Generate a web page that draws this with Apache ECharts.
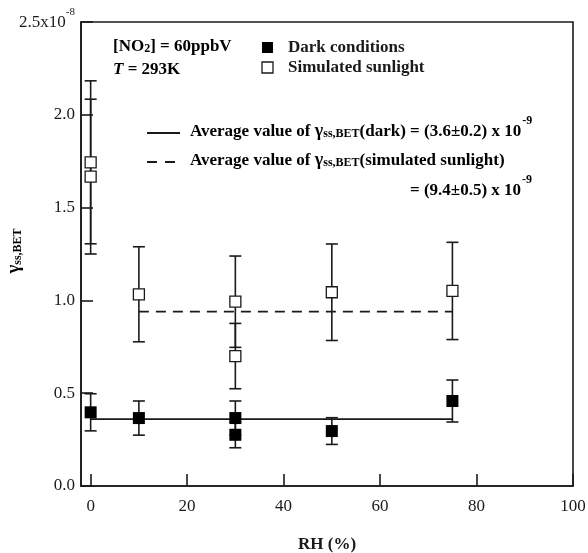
<!DOCTYPE html>
<html>
<head>
<meta charset="utf-8">
<script src="https://cdn.jsdelivr.net/npm/echarts@6/dist/echarts.min.js"></script>
<style>html,body{margin:0;padding:0;background:#fff;}#c{width:588px;height:553px;}</style>
</head>
<body>
<div id="c"></div>
<script>
// values in units of 1e-8
var rhDark = [0, 10, 30, 30, 50, 75];
var gammaDark = [0.397, 0.366, 0.366, 0.276, 0.296, 0.458];
var errDark = [0.100, 0.092, 0.092, 0.070, 0.072, 0.113];

var rhSun = [0, 0, 10, 30, 30, 50, 75];
var gammaSun = [1.744, 1.667, 1.033, 0.993, 0.700, 1.044, 1.051];
var errSun = [0.439, 0.417, 0.256, 0.246, 0.176, 0.260, 0.262];

var darkAvgValue = 0.36, darkAvgRange = [0, 75];
var sunAvgValue = 0.94, sunAvgRange = [10, 75];

var xTicks = [0, 20, 40, 60, 80, 100];
var yTicks = [0, 0.5, 1.0, 1.5, 2.0, 2.5];

var SERIF = "'Liberation Serif','Times New Roman',serif";
var INK = '#1a1a1a';

function pts(xs, ys, es) {
  return xs.map(function (x, i) { return es ? [x, ys[i], es[i]] : [x, ys[i]]; });
}

function errRender(params, api) {
  var x = api.value(0), y = api.value(1), e = api.value(2);
  var top = api.coord([x, y + e]);
  var bot = api.coord([x, y - e]);
  var hw = 6;
  var st = { stroke: INK, lineWidth: 1.6 };
  return {
    type: 'group',
    children: [
      { type: 'line', shape: { x1: top[0], y1: top[1], x2: bot[0], y2: bot[1] }, style: st },
      { type: 'line', shape: { x1: top[0] - hw, y1: top[1], x2: top[0] + hw, y2: top[1] }, style: st },
      { type: 'line', shape: { x1: bot[0] - hw, y1: bot[1], x2: bot[0] + hw, y2: bot[1] }, style: st }
    ]
  };
}

var bold = { fontFamily: SERIF, fontWeight: 'bold', fontSize: 17, color: INK, lineHeight: 20, verticalAlign: 'bottom', padding: [0, 0, 3, 0] };
var subS = { fontFamily: SERIF, fontWeight: 'bold', fontSize: 12, color: INK, lineHeight: 12, verticalAlign: 'bottom', padding: [0, 0, 3, 0] };
var supS = { fontFamily: SERIF, fontWeight: 'bold', fontSize: 12, color: INK, lineHeight: 12, verticalAlign: 'bottom', padding: [0, 0, 16, 1] };
var richAvg = {
  b: bold,
  g: Object.assign({}, bold, { fontSize: 18 }),
  s: subS,
  e: supS
};

var chart = echarts.init(document.getElementById('c'), null, { renderer: 'canvas' });
chart.setOption({
  animation: false,
  backgroundColor: '#fff',
  grid: { left: 81, right: 15, top: 22, bottom: 67, outerBoundsMode: 'none', containLabel: false, show: true, borderColor: INK, borderWidth: 1.6, backgroundColor: 'transparent' },
  xAxis: {
    type: 'value', min: -2, max: 100,
    axisLine: { show: true, onZero: false, lineStyle: { color: INK, width: 1.6 } },
    axisTick: { show: true, inside: true, length: 12, lineStyle: { color: INK, width: 1.6 }, customValues: xTicks },
    axisLabel: { customValues: xTicks, fontFamily: SERIF, fontSize: 17, color: INK, margin: 12 },
    splitLine: { show: false },
    name: 'RH (%)', nameLocation: 'middle', nameGap: 50,
    nameTextStyle: { fontFamily: SERIF, fontWeight: 'bold', fontSize: 17, color: INK }
  },
  yAxis: {
    type: 'value', min: 0, max: 2.5, interval: 0.5,
    axisLine: { show: true, onZero: false, lineStyle: { color: INK, width: 1.6 } },
    axisTick: { show: true, inside: true, length: 12, lineStyle: { color: INK, width: 1.6 } },
    axisLabel: {
      fontFamily: SERIF, fontSize: 17, color: INK, margin: 6,
      formatter: function (v) {
        if (Math.abs(v - yTicks[yTicks.length - 1]) < 1e-9) return '{m|' + v.toFixed(1) + 'x10}{e|-8}';
        return v.toFixed(1);
      },
      rich: {
        m: { fontFamily: SERIF, fontSize: 17, color: INK, lineHeight: 18, verticalAlign: 'bottom', padding: [8, 0, 0, 0] },
        e: { fontFamily: SERIF, fontSize: 11, color: INK, lineHeight: 11, verticalAlign: 'bottom', padding: [0, 0, 13, 0] }
      }
    },
    splitLine: { show: false }
  },
  series: [
    { type: 'custom', renderItem: errRender, data: pts(rhSun, gammaSun, errSun), z: 2, encode: { x: 0, y: 1 } },
    { type: 'custom', renderItem: errRender, data: pts(rhDark, gammaDark, errDark), z: 2, encode: { x: 0, y: 1 } },
    { type: 'line', data: [[darkAvgRange[0], darkAvgValue], [darkAvgRange[1], darkAvgValue]], symbol: 'none', lineStyle: { color: INK, width: 1.8, type: 'solid' }, z: 3 },
    { type: 'line', data: [[sunAvgRange[0], sunAvgValue], [sunAvgRange[1], sunAvgValue]], symbol: 'none', lineStyle: { color: INK, width: 1.8, type: [10, 7] }, z: 3 },
    { type: 'scatter', data: pts(rhSun, gammaSun), symbol: 'rect', symbolSize: 11, itemStyle: { color: '#fff', borderColor: INK, borderWidth: 1.3, opacity: 1 }, z: 4 },
    { type: 'scatter', data: pts(rhDark, gammaDark), symbol: 'rect', symbolSize: 12, itemStyle: { color: '#000', opacity: 1 }, z: 4 }
  ],
  graphic: [
    { type: 'text', x: 113, y: 48, style: { text: '{b|[NO}{s|2}{b|] = 60ppbV}', verticalAlign: 'middle', rich: { b: bold, s: subS } } },
    { type: 'text', x: 113, y: 71, style: { text: '{i|T}{b| = 293K}', verticalAlign: 'middle',
      rich: { b: bold, i: Object.assign({}, bold, { fontStyle: 'italic' }) } } },
    { type: 'rect', shape: { x: 262, y: 42, width: 11, height: 11 }, style: { fill: '#000' } },
    { type: 'rect', shape: { x: 262, y: 62, width: 11, height: 11 }, style: { fill: '#fff', stroke: INK, lineWidth: 1.3 } },
    { type: 'text', x: 288, y: 48, style: { text: 'Dark conditions', font: 'bold 17px ' + SERIF, fill: INK, verticalAlign: 'middle' } },
    { type: 'text', x: 288, y: 68, style: { text: 'Simulated sunlight', font: 'bold 17px ' + SERIF, fill: INK, verticalAlign: 'middle' } },
    { type: 'line', shape: { x1: 147, y1: 133, x2: 180, y2: 133 }, style: { stroke: INK, lineWidth: 2 } },
    { type: 'line', shape: { x1: 147, y1: 162, x2: 180, y2: 162 }, style: { stroke: INK, lineWidth: 2, lineDash: [10, 8] } },
    { type: 'text', x: 190, y: 133, style: { text: '{b|Average value of }{g|γ}{s|ss,BET}{b|(dark) = (3.6±0.2) x 10}{e|-9}', verticalAlign: 'middle', rich: richAvg } },
    { type: 'text', x: 190, y: 162, style: { text: '{b|Average value of }{g|γ}{s|ss,BET}{b|(simulated sunlight)}', verticalAlign: 'middle', rich: richAvg } },
    { type: 'text', x: 410, y: 192, style: { text: '{b|= (9.4±0.5) x 10}{e|-9}', verticalAlign: 'middle', rich: richAvg } },
    { type: 'text', x: 16, y: 251, rotation: Math.PI / 2, style: { text: '{g|γ}{s|ss,BET}', align: 'center', verticalAlign: 'middle',
      rich: { g: Object.assign({}, bold, { fontSize: 19, lineHeight: 21 }), s: subS } } }
  ]
});
</script>
</body>
</html>
